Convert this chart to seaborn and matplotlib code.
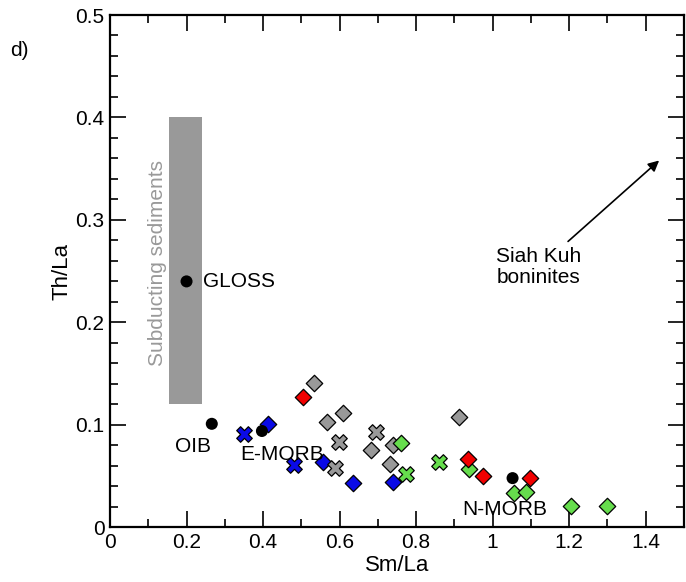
import matplotlib.pyplot as plt
import pandas as pd
import seaborn as sns

# values (Sm/La, Th/La)
gray_dia_sm = [0.534, 0.567, 0.610, 0.681, 0.739, 0.732, 0.913]
gray_dia_th = [0.141, 0.103, 0.112, 0.075, 0.080, 0.062, 0.108]
blue_dia_sm = [0.414, 0.556, 0.636, 0.740]
blue_dia_th = [0.101, 0.064, 0.043, 0.044]
gray_x_sm = [0.599, 0.695, 0.588]
gray_x_th = [0.083, 0.093, 0.058]
blue_x_sm = [0.351, 0.482]
blue_x_th = [0.091, 0.061]
green_dia_sm = [0.761, 0.939, 1.056, 1.087, 1.206, 1.298]
green_dia_th = [0.082, 0.057, 0.033, 0.034, 0.021, 0.021]
green_x_sm = [0.774, 0.860]
green_x_th = [0.052, 0.064]
red_dia_sm = [0.504, 0.936, 0.974, 1.097]
red_dia_th = [0.127, 0.067, 0.050, 0.048]
ref_names = ["GLOSS", "OIB", "E-MORB", "N-MORB"]
ref_sm = [0.200, 0.266, 0.397, 1.052]
ref_th = [0.240, 0.101, 0.094, 0.048]

# subducting sediments field
sed_sm = [0.155, 0.240]
sed_th = [0.12, 0.40]

sns.set_style("ticks")
plt.rcParams["font.family"] = ["Liberation Sans", "DejaVu Sans"]
plt.rcParams["text.color"] = "black"
plt.rcParams["axes.labelcolor"] = "black"
plt.rcParams["xtick.color"] = "black"
plt.rcParams["ytick.color"] = "black"

groups = [
    # sm, th, marker, face, size
    (gray_dia_sm, gray_dia_th, "D", "#999999", 70),
    (blue_dia_sm, blue_dia_th, "D", "#0a0ae6", 70),
    (gray_x_sm, gray_x_th, "X", "#999999", 125),
    (blue_x_sm, blue_x_th, "X", "#0a0ae6", 125),
    (green_dia_sm, green_dia_th, "D", "#66dd4d", 70),
    (green_x_sm, green_x_th, "X", "#66dd4d", 125),
    (red_dia_sm, red_dia_th, "D", "#f20000", 70),
]

fig = plt.figure(figsize=(6.86, 5.82), dpi=100)
ax = fig.add_axes([110 / 686, 54.7 / 582, 574 / 686, 512.3 / 582])

ax.fill_betweenx(sed_th, sed_sm[0], sed_sm[1], color="#999999", lw=0, zorder=1)

for sm, th, mk, col, s in groups:
    df = pd.DataFrame({"sm": sm, "th": th})
    sns.scatterplot(data=df, x="sm", y="th", marker=mk, color=col, s=s,
                    edgecolor="black", linewidth=0.9, ax=ax, zorder=3)

ref = pd.DataFrame({"sm": ref_sm, "th": ref_th, "name": ref_names})
sns.scatterplot(data=ref, x="sm", y="th", marker="o", color="black", s=75,
                edgecolor="none", ax=ax, zorder=4)

fs = 15
ax.text(0.244, 0.240, "GLOSS", fontsize=fs, va="center", ha="left")
ax.text(0.218, 0.079, "OIB", fontsize=fs, va="center", ha="center")
ax.text(0.451, 0.071, "E-MORB", fontsize=fs, va="center", ha="center")
ax.text(1.031, 0.017, "N-MORB", fontsize=fs, va="center", ha="center")
ax.text(0.124, 0.258, "Subducting sediments", fontsize=fs, color="#999999",
        rotation=90, va="center", ha="center")
ax.text(1.010, 0.254, "Siah Kuh\nboninites", fontsize=fs, va="center",
        ha="left", linespacing=1.1)
ax.annotate("", xy=(1.435, 0.358), xytext=(1.197, 0.279),
            arrowprops=dict(arrowstyle="-|>", color="black", lw=1.2,
                            mutation_scale=16, shrinkA=0, shrinkB=0))

ax.set_xlim(0, 1.5)
ax.set_ylim(0, 0.5)
ax.set_xticks([0, 0.2, 0.4, 0.6, 0.8, 1.0, 1.2, 1.4])
ax.set_xticklabels(["0", "0.2", "0.4", "0.6", "0.8", "1", "1.2", "1.4"])
ax.set_xticks([0.1, 0.3, 0.5, 0.7, 0.9, 1.1, 1.3, 1.5], minor=True)
ax.set_yticks([0, 0.1, 0.2, 0.3, 0.4, 0.5])
ax.set_yticklabels(["0", "0.1", "0.2", "0.3", "0.4", "0.5"])
ax.set_yticks([i / 50 for i in range(26)], minor=True)
ax.tick_params(which="both", direction="in", top=True, right=True,
               labelsize=fs, width=1.2, color="black", labelcolor="black", pad=4)
ax.tick_params(which="major", length=11.5)
ax.tick_params(which="minor", length=5.8)
for sp in ax.spines.values():
    sp.set_linewidth(1.6)
    sp.set_color("black")

ax.set_xlabel("Sm/La", fontsize=16, labelpad=2)
ax.set_ylabel("Th/La", fontsize=16, labelpad=2)
fig.text(0.015, 0.914, "d)", fontsize=fs, va="center", ha="left")

fig.savefig("out.png", dpi=100)
